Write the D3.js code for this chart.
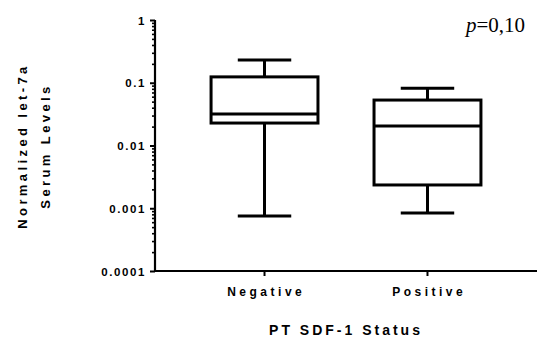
<!DOCTYPE html>
<html>
<head>
<meta charset="utf-8">
<script src="https://cdn.jsdelivr.net/npm/d3@7"></script>
<style>
  html, body { margin: 0; padding: 0; background: #fff; }
  svg { display: block; }
  text { font-family: Arial, "Liberation Sans", sans-serif; fill: #000; }
</style>
</head>
<body>
<svg id="chart" width="556" height="338"></svg>
<script>
// Group names and box-plot summaries (min, Q1, median, Q3, max)
const categories = ["Negative", "Positive"];
const whiskerLow = [0.00075, 0.00084];
const q1Values = [0.0228, 0.00235];
const medianValues = [0.0318, 0.0205];
const q3Values = [0.124, 0.053];
const whiskerHigh = [0.23, 0.082];
const yTickValues = [1, 0.1, 0.01, 0.001, 0.0001];
const yTickLabels = ["1", "0.1", "0.01", "0.001", "0.0001"];
const pLabel = "=0,10";

const svg = d3.select("#chart");
const margin = { left: 155, right: 19, top: 20, bottom: 67 };
const W = 556, H = 338;

const x = d3.scaleBand()
  .domain(categories)
  .range([margin.left, W - margin.right])
  .paddingInner(0.344)
  .paddingOuter(0.344);

const y = d3.scaleLog()
  .domain([0.0001, 1])
  .range([H - margin.bottom, margin.top]);

// Y axis: major decade ticks with labels, minor ticks in between
const minor = [];
for (let e = -4; e < 0; e++) {
  for (let k = 2; k <= 9; k++) minor.push(k * Math.pow(10, e));
}
const yAxisMinor = d3.axisLeft(y).tickValues(minor).tickSize(3).tickFormat("");
const yAxis = d3.axisLeft(y)
  .tickValues(yTickValues)
  .tickSize(5)
  .tickPadding(4)
  .tickFormat((d, i) => yTickLabels[i]);

const gyMinor = svg.append("g").attr("transform", `translate(${margin.left},0)`).call(yAxisMinor);
gyMinor.select(".domain").remove();
gyMinor.selectAll("line").attr("stroke", "#000").attr("stroke-width", 1.6);

const gy = svg.append("g").attr("transform", `translate(${margin.left},0)`).call(yAxis);
gy.select(".domain").attr("stroke", "#000").attr("stroke-width", 2.2)
  .attr("d", `M0,${y(0.0001)}V${y(1)}`);
gy.selectAll(".tick line").attr("stroke", "#000").attr("stroke-width", 2);
gy.selectAll(".tick text")
  .style("font-size", "11.5px").style("font-weight", "bold")
  .style("letter-spacing", "1.6px")
  .attr("dy", "0.35em");

// X axis
const xAxis = d3.axisBottom(x).tickSize(5).tickPadding(11);
const gx = svg.append("g").attr("transform", `translate(0,${y(0.0001)})`).call(xAxis);
gx.select(".domain").attr("stroke", "#000").attr("stroke-width", 2.2)
  .attr("d", `M${margin.left - 1},0H${W - margin.right}`);
gx.selectAll(".tick line").attr("stroke", "#000").attr("stroke-width", 2);
gx.selectAll(".tick text")
  .style("font-size", "12px").style("font-weight", "bold")
  .style("letter-spacing", "3.5px")
  .attr("dx", "1.7px");

// Boxes
const boxes = svg.append("g").attr("fill", "none").attr("stroke", "#000").attr("stroke-width", 3);
categories.forEach((c, i) => {
  const x0 = x(c), bw = x.bandwidth(), cx = x0 + bw / 2, cap = bw / 2;
  const g = boxes.append("g");
  g.append("line").attr("x1", cx).attr("x2", cx).attr("y1", y(whiskerHigh[i])).attr("y2", y(q3Values[i]));
  g.append("line").attr("x1", cx).attr("x2", cx).attr("y1", y(q1Values[i])).attr("y2", y(whiskerLow[i]));
  g.append("line").attr("x1", cx - cap / 2).attr("x2", cx + cap / 2).attr("y1", y(whiskerHigh[i])).attr("y2", y(whiskerHigh[i]));
  g.append("line").attr("x1", cx - cap / 2).attr("x2", cx + cap / 2).attr("y1", y(whiskerLow[i])).attr("y2", y(whiskerLow[i]));
  g.append("rect").attr("x", x0).attr("width", bw)
    .attr("y", y(q3Values[i])).attr("height", y(q1Values[i]) - y(q3Values[i]))
    .attr("fill", "#fff");
  g.append("line").attr("x1", x0).attr("x2", x0 + bw).attr("y1", y(medianValues[i])).attr("y2", y(medianValues[i]));
});

// Axis titles
svg.append("text")
  .attr("x", 346).attr("y", 335)
  .attr("text-anchor", "middle")
  .style("font-size", "14px").style("font-weight", "bold").style("letter-spacing", "3px")
  .text("PT SDF-1 Status");

const yt = svg.append("text")
  .attr("transform", "translate(0,146) rotate(-90)")
  .attr("text-anchor", "middle")
  .style("font-size", "13px").style("font-weight", "bold").style("letter-spacing", "3.4px");
yt.append("tspan").attr("x", 0).attr("y", 27).text("Normalized let-7a");
yt.append("tspan").attr("x", 0).attr("y", 50).text("Serum Levels");

// p-value annotation
const pt = svg.append("text")
  .attr("x", 466).attr("y", 32)
  .style("font-family", "'Liberation Serif', 'Times New Roman', serif")
  .style("font-size", "21px");
pt.append("tspan").style("font-style", "italic").text("p");
pt.append("tspan").text(pLabel);
</script>
</body>
</html>
